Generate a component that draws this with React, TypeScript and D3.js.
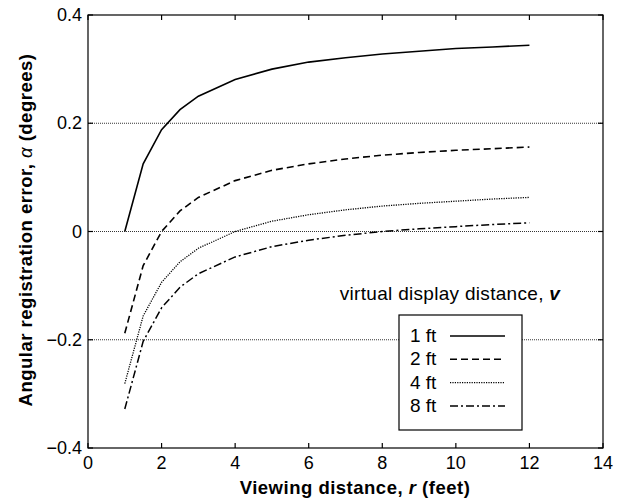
import * as d3 from "d3";
import React from "react";

const WIDTH = 619;
const HEIGHT = 500;
const MARGIN = { left: 88, right: 16, top: 15, bottom: 52 };

// viewing distance r (feet)
const distances = [1, 1.5, 2, 2.5, 3, 4, 5, 6, 7, 8, 9, 10, 11, 12];

// angular registration error (degrees)
const err1ft = [0, 0.125, 0.188, 0.225, 0.25, 0.281, 0.3, 0.313, 0.321, 0.328, 0.333, 0.338, 0.341, 0.344];
const err2ft = [-0.188, -0.063, 0, 0.038, 0.063, 0.094, 0.113, 0.125, 0.134, 0.141, 0.146, 0.15, 0.153, 0.156];
const err4ft = [-0.281, -0.156, -0.094, -0.056, -0.031, 0, 0.019, 0.031, 0.04, 0.047, 0.052, 0.056, 0.06, 0.063];
const err8ft = [-0.328, -0.203, -0.141, -0.103, -0.078, -0.047, -0.028, -0.016, -0.007, 0, 0.005, 0.009, 0.013, 0.016];

const seriesLabels = ["1 ft", "2 ft", "4 ft", "8 ft"];
const seriesValues = [err1ft, err2ft, err4ft, err8ft];
const dashes = ["none", "7,4", "1.2,1.2", "8,3,2,3"];
const widths = [1.6, 1.6, 1.3, 1.5];

const xTicks = [0, 2, 4, 6, 8, 10, 12, 14];
const yTicks = [-0.4, -0.2, 0, 0.2, 0.4];
const gridValues = [-0.2, 0, 0.2];

const FONT = "'Liberation Sans', Arial, sans-serif";

export default function App() {
  const boundsWidth = WIDTH - MARGIN.left - MARGIN.right;
  const boundsHeight = HEIGHT - MARGIN.top - MARGIN.bottom;

  const xScale = d3.scaleLinear().domain([0, 14]).range([0, boundsWidth]);
  const yScale = d3.scaleLinear().domain([-0.4, 0.4]).range([boundsHeight, 0]);

  const line = d3
    .line<number>()
    .x((_, i) => xScale(distances[i]))
    .y((d) => yScale(d));

  const TICK = 5;

  // legend box (page coords)
  const legX = 399;
  const legY = 315;
  const legW = 123;
  const legH = 115;
  const rowH = 23.3;

  return (
    <svg
      width={WIDTH}
      height={HEIGHT}
      style={{ position: "absolute", left: 0, top: 0, background: "#fff" }}
      fontFamily={FONT}
    >
      <g transform={`translate(${MARGIN.left},${MARGIN.top})`}>
        {gridValues.map((v) => (
          <line
            key={v}
            x1={0}
            x2={boundsWidth}
            y1={yScale(v)}
            y2={yScale(v)}
            stroke="#000"
            strokeWidth={0.8}
            strokeDasharray="1,1"
          />
        ))}

        {seriesValues.map((vals, i) => (
          <path
            key={seriesLabels[i]}
            d={line(vals) || ""}
            fill="none"
            stroke="#000"
            strokeWidth={widths[i]}
            strokeDasharray={dashes[i]}
          />
        ))}

        <rect x={0} y={0} width={boundsWidth} height={boundsHeight} fill="none" stroke="#000" strokeWidth={1.2} />

        {xTicks.map((t) => (
          <g key={t}>
            <line x1={xScale(t)} x2={xScale(t)} y1={boundsHeight} y2={boundsHeight - TICK} stroke="#000" strokeWidth={1.2} />
            <line x1={xScale(t)} x2={xScale(t)} y1={0} y2={TICK} stroke="#000" strokeWidth={1.2} />
            <text x={xScale(t)} y={boundsHeight + 21} textAnchor="middle" fontSize={18}>
              {t}
            </text>
          </g>
        ))}

        {yTicks.map((t) => (
          <g key={t}>
            <line x1={0} x2={TICK} y1={yScale(t)} y2={yScale(t)} stroke="#000" strokeWidth={1.2} />
            <line x1={boundsWidth} x2={boundsWidth - TICK} y1={yScale(t)} y2={yScale(t)} stroke="#000" strokeWidth={1.2} />
            <text x={-6} y={yScale(t) + 6} textAnchor="end" fontSize={18}>
              {d3.format("")(t)}
            </text>
          </g>
        ))}
      </g>

      <text x={450} y={300} textAnchor="middle" fontSize={19} letterSpacing={0.3}>
        virtual display distance, <tspan fontStyle="italic" fontWeight="bold">v</tspan>
      </text>

      <g transform={`translate(${legX},${legY})`}>
        <rect x={0} y={0} width={legW} height={legH} fill="#fff" stroke="#000" strokeWidth={1.2} />
        {seriesLabels.map((lab, i) => (
          <g key={lab} transform={`translate(0,${27 + i * rowH})`}>
            <text x={11} y={0} fontSize={19}>
              {lab}
            </text>
            <line
              x1={51}
              x2={106}
              y1={-6}
              y2={-6}
              stroke="#000"
              strokeWidth={widths[i]}
              strokeDasharray={dashes[i]}
            />
          </g>
        ))}
      </g>

      <text
        x={355}
        y={494}
        textAnchor="middle"
        fontSize={18.5}
        fontWeight="bold"
        letterSpacing={0.5}
      >
        Viewing distance, <tspan fontStyle="italic">r</tspan> (feet)
      </text>

      <text
        transform={`translate(32,230) rotate(-90)`}
        textAnchor="middle"
        fontSize={18.5}
        fontWeight="bold"
        letterSpacing={0.5}
      >
        Angular registration error, <tspan fontStyle="italic" fontWeight="normal">α</tspan> (degrees)
      </text>
    </svg>
  );
}
